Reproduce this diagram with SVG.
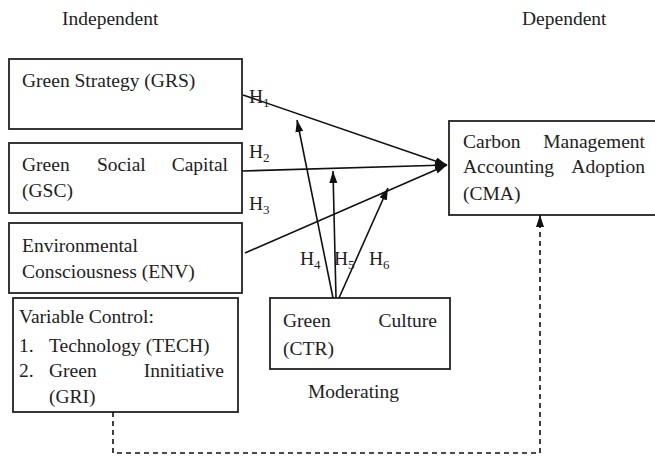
<svg xmlns="http://www.w3.org/2000/svg" width="655" height="458" viewBox="0 0 655 458">
<style>
text{font-family:"Liberation Serif","Times New Roman",serif;font-size:19.5px;fill:#222}
.sub{font-size:13px}
.box{fill:#fff;stroke:#222;stroke-width:1.8}
.ln{stroke:#111;stroke-width:1.6;fill:none}
.dash{stroke:#111;stroke-width:1.6;fill:none;stroke-dasharray:5,4}
</style>
<defs>
<marker id="ah" viewBox="0 0 12 8" refX="12" refY="4" markerWidth="12" markerHeight="8" markerUnits="userSpaceOnUse" orient="auto">
<path d="M0,0 L12,4 L0,8 Z" fill="#111"/>
</marker>
</defs>
<text x="62" y="25">Independent</text>
<text x="522" y="25">Dependent</text>
<g id="GRS"><rect class="box" x="9" y="59" width="233" height="70"/><text x="22" y="87">Green Strategy (GRS)</text></g>
<g id="GSC"><rect class="box" x="9" y="143" width="233" height="70"/><text x="22" y="171">Green</text><text x="97" y="171">Social</text><text x="228" y="171" text-anchor="end">Capital</text><text x="22" y="197">(GSC)</text></g>
<g id="ENV"><rect class="box" x="9" y="223" width="233" height="70"/><text x="22" y="252">Environmental</text><text x="22" y="278">Consciousness (ENV)</text></g>
<g id="CTRL"><rect class="box" x="13" y="298" width="225" height="114"/><text x="19" y="323">Variable Control:</text><text x="19" y="352">1.</text><text x="49" y="352">Technology (TECH)</text><text x="19" y="377">2.</text><text x="49" y="377">Green</text><text x="224" y="377" text-anchor="end">Innitiative</text><text x="49" y="403">(GRI)</text></g>
<g id="CMA"><rect class="box" x="449" y="121" width="215" height="94"/><text x="463" y="148">Carbon</text><text x="645" y="148" text-anchor="end">Management</text><text x="463" y="173">Accounting</text><text x="645" y="173" text-anchor="end">Adoption</text><text x="463" y="200">(CMA)</text></g>
<g id="CTR"><rect class="box" x="270" y="298" width="180" height="71"/><text x="283" y="327">Green</text><text x="437" y="327" text-anchor="end">Culture</text><text x="283" y="355">(CTR)</text><text x="308" y="398">Moderating</text></g>
<g id="connectors">
<line class="ln" x1="243" y1="95" x2="447" y2="165" marker-end="url(#ah)"/>
<line class="ln" x1="242" y1="171" x2="447" y2="165" marker-end="url(#ah)"/>
<line class="ln" x1="245" y1="253" x2="447" y2="165" marker-end="url(#ah)"/>
<line class="ln" x1="333" y1="298" x2="297" y2="120" marker-end="url(#ah)"/>
<line class="ln" x1="336" y1="298" x2="333" y2="171" marker-end="url(#ah)"/>
<line class="ln" x1="339" y1="298" x2="388" y2="188" marker-end="url(#ah)"/>
<polyline class="dash" points="113,412 113,453 540,453 540,215" marker-end="url(#ah)"/>
</g>
<g id="labels">
<text x="249" y="103">H<tspan class="sub" dy="4">1</tspan></text>
<text x="249" y="158">H<tspan class="sub" dy="4">2</tspan></text>
<text x="249" y="210">H<tspan class="sub" dy="4">3</tspan></text>
<text x="300" y="265">H<tspan class="sub" dy="4">4</tspan></text>
<text x="334" y="265">H<tspan class="sub" dy="4">5</tspan></text>
<text x="369" y="265">H<tspan class="sub" dy="4">6</tspan></text>
</g>
</svg>
